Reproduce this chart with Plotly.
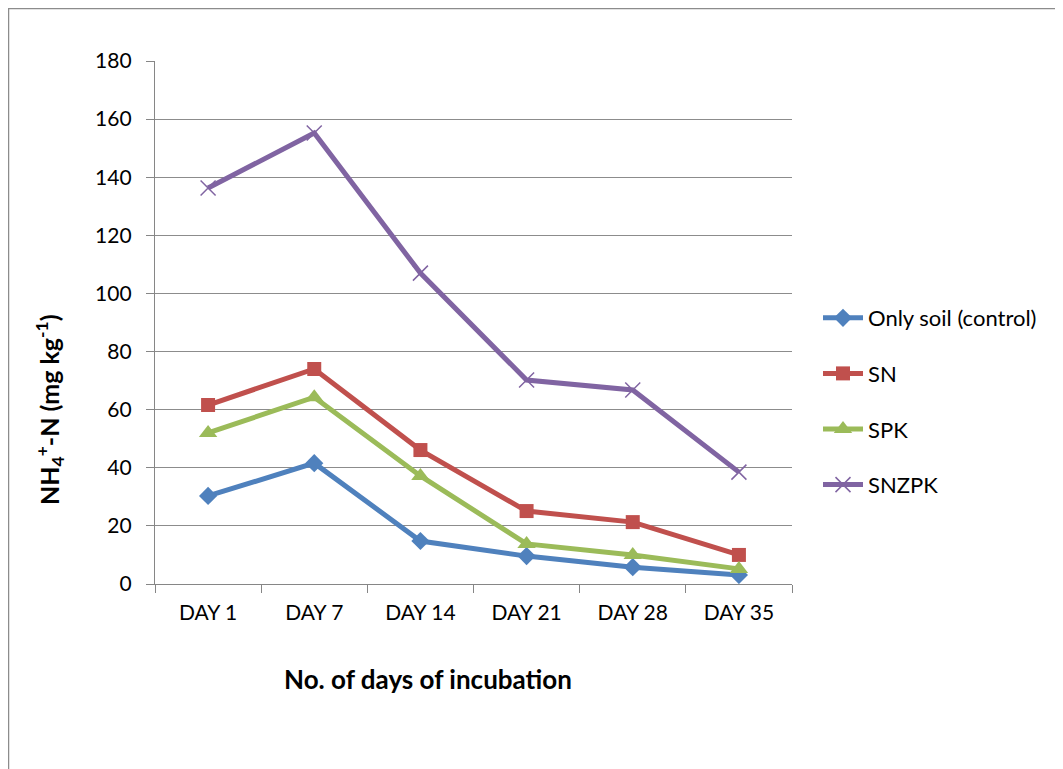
import plotly.graph_objects as go

days = ["DAY 1", "DAY 7", "DAY 14", "DAY 21", "DAY 28", "DAY 35"]
control = [30.3, 41.6, 14.8, 9.6, 5.8, 3.1]
sn = [61.6, 74.0, 46.1, 25.1, 21.3, 10.0]
spk = [52.0, 64.3, 37.2, 13.8, 10.0, 5.2]
snzpk = [136.3, 155.2, 107.0, 70.2, 66.8, 38.5]

names = ["Only soil (control)", "SN", "SPK", "SNZPK"]
colors = ["#4F81BD", "#C0504D", "#9BBB59", "#8064A2"]
symbols = ["diamond", "square", "triangle-up", "x-thin-open"]
sizes = [14, 14, 16, 15]

x_title = "<b>No. of days of incubation</b>"
y_title = "<b>NH<sub>4</sub><sup>+</sup>-N (mg kg<sup>-1</sup>)</b>"

fig = go.Figure()
for i, (nm, vals) in enumerate(zip(names, [control, sn, spk, snzpk])):
    mk = dict(symbol=symbols[i], size=sizes[i], color=colors[i])
    if symbols[i] == "x-thin-open":
        mk["line"] = dict(color=colors[i], width=1.5)
    fig.add_trace(go.Scatter(
        x=days, y=vals, name=nm, mode="lines+markers",
        line=dict(color=colors[i], width=5),
        marker=mk, legendgroup=nm,
    ))

OFF = 8  # page body margin
L, R, T, B = 155 - OFF, 792 - OFF, 61 - OFF, 584 - OFF
W, H = 1055, 761
pw, ph = R - L, B - T


def px(xp):  # reference page x -> paper
    return (xp - OFF - L) / pw


def py(yp):  # reference page y -> paper
    return (B - (yp - OFF)) / ph


fig.update_layout(
    width=W, height=H,
    margin=dict(l=L, r=W - R, t=T, b=H - B, autoexpand=False),
    paper_bgcolor="white", plot_bgcolor="white",
    font=dict(family="Lato, Open Sans, sans-serif", size=21, color="black"),
    showlegend=True,
    legend=dict(x=px(818), y=py(297), xanchor="left", yanchor="top",
                traceorder="grouped", tracegroupgap=24,
                font=dict(size=22), itemwidth=40, bgcolor="rgba(0,0,0,0)"),
    xaxis=dict(
        type="category", range=[-0.5, 5.5], tickson="boundaries",
        ticks="outside", ticklen=8, tickcolor="#868686", tickwidth=1.3,
        showline=True, linecolor="#868686", linewidth=1.3,
        showgrid=False, tickfont=dict(size=21), ticklabelstandoff=10,
    ),
    yaxis=dict(
        range=[0, 180], dtick=20, ticks="outside", ticklen=8,
        tickcolor="#868686", tickwidth=1.3,
        showline=True, linecolor="#868686", linewidth=1.3,
        showgrid=True, gridcolor="#8C8C8C", gridwidth=1.3,
        zeroline=False, tickfont=dict(size=21), ticklabelstandoff=10,
    ),
)

fig.add_annotation(text=x_title, xref="paper", yref="paper",
                   x=px(428), y=py(679), xanchor="center", yanchor="middle",
                   showarrow=False, font=dict(size=26))
fig.add_annotation(text=y_title, xref="paper", yref="paper",
                   x=px(49), y=py(410), xanchor="center", yanchor="middle",
                   textangle=-90, showarrow=False, font=dict(size=25))

fig.add_shape(type="rect", xref="paper", yref="paper",
              x0=(0.5 - L) / pw, x1=(1075 - L) / pw,
              y0=(B - 790) / ph, y1=(B - 0.5) / ph,
              line=dict(color="#8C8C8C", width=1.5), fillcolor="rgba(0,0,0,0)",
              layer="below")

fig.write_html("out.html")
